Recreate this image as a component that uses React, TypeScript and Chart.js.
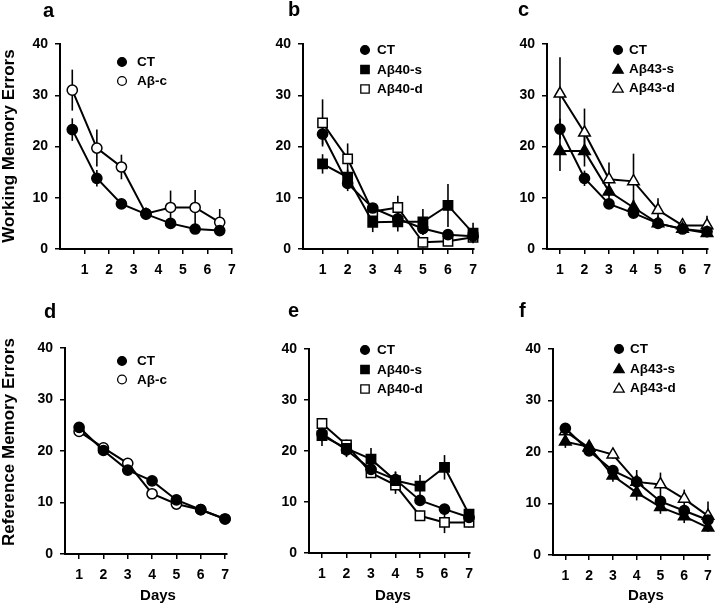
import React, { useEffect, useRef } from 'react';
import { Chart, registerables } from 'chart.js';

Chart.register(...registerables);

const FONT = '"Liberation Sans", Arial, Helvetica, sans-serif';

// ---------- data ----------
const DAYS = [1, 2, 3, 4, 5, 6, 7];
const DAYS_SHIFTED = [0.5, 1.5, 2.5, 3.5, 4.5, 5.5, 6.5];
const DAY_TICKS = [1, 2, 3, 4, 5, 6, 7];
const ERROR_TICKS = [0, 10, 20, 30, 40];

const WORKING_TITLE = 'Working Memory Errors';
const REFERENCE_TITLE = 'Reference Memory Errors';
const X_TITLE = 'Days';

// panel a
const A_CT = [23.3, 13.8, 8.8, 6.8, 5.0, 3.9, 3.6];
const A_CT_ERR = [2.2, 1.6, 0.8, 1.0, 0.7, 0.5, 0.5];
const A_ABC = [31.0, 19.7, 16.0, 6.9, 8.1, 8.1, 5.2];
const A_ABC_ERR = [4.0, 3.6, 2.4, 1.2, 3.3, 3.4, 2.6];

// panel b
const B_CT = [22.4, 12.8, 8.0, 5.9, 4.0, 2.8, 2.5];
const B_CT_ERR = [2.0, 1.5, 0.8, 1.2, 1.2, 0.6, 0.6];
const B_S = [16.6, 14.0, 5.2, 5.3, 5.3, 8.5, 3.1];
const B_S_ERR = [1.9, 1.5, 1.9, 1.9, 2.5, 4.2, 2.0];
const B_D = [24.6, 17.6, 7.3, 8.1, 1.3, 1.5, 2.3];
const B_D_ERR = [4.6, 3.0, 1.0, 2.3, 1.0, 0.8, 1.0];

// panel c
const C_CT = [23.4, 13.8, 8.8, 7.0, 5.0, 3.9, 3.4];
const C_CT_ERR = [2.0, 1.5, 0.8, 0.8, 0.7, 0.5, 0.5];
const C_S = [19.1, 19.1, 11.2, 8.1, 5.0, 3.9, 3.1];
const C_S_ERR = [3.9, 3.0, 1.5, 1.5, 0.8, 0.8, 0.8];
const C_D = [30.3, 22.7, 13.6, 13.2, 7.6, 4.6, 4.6];
const C_D_ERR = [7.1, 4.7, 3.3, 5.4, 2.3, 1.3, 1.9];

// panel d
const D_CT = [24.6, 20.1, 16.3, 14.2, 10.5, 8.6, 6.8];
const D_CT_ERR = [0.5, 0.5, 0.8, 0.5, 0.5, 0.5, 0.5];
const D_ABC = [23.8, 20.6, 17.6, 11.7, 9.7, 8.6, 6.8];
const D_ABC_ERR = [0.6, 0.5, 0.6, 0.6, 0.6, 0.5, 0.5];

// panel e
const E_CT = [23.4, 20.2, 16.4, 14.4, 10.3, 8.6, 7.0];
const E_CT_ERR = [1.5, 1.2, 1.0, 1.5, 1.0, 1.0, 0.7];
const E_S = [23.0, 20.5, 18.4, 14.2, 13.1, 16.8, 7.6];
const E_S_ERR = [2.0, 1.7, 2.2, 1.8, 2.2, 2.4, 1.0];
const E_D = [25.4, 21.2, 15.7, 13.3, 7.3, 6.0, 6.0];
const E_D_ERR = [1.0, 1.0, 1.0, 1.7, 1.0, 2.1, 1.0];

// panel f
const F_CT = [24.6, 20.2, 16.4, 14.2, 10.4, 8.6, 6.8];
const F_CT_ERR = [0.8, 0.8, 0.8, 1.0, 0.8, 0.8, 0.8];
const F_S = [22.0, 21.0, 15.4, 12.1, 9.3, 7.5, 5.3];
const F_S_ERR = [1.2, 1.0, 1.2, 1.5, 1.3, 1.3, 0.8];
const F_D = [24.0, 20.8, 19.5, 14.2, 13.7, 10.9, 7.6];
const F_D_ERR = [0.8, 0.8, 0.8, 2.3, 2.3, 1.8, 2.8];

// ---------- layout ----------
type Series = { label: string; values: number[]; errors: number[]; style: 'circle' | 'rect' | 'triangle'; filled: boolean };
type PanelSpec = {
  letter: string;
  letterPos: { x: number; y: number };
  canvas: { left: number; top: number; width: number; height: number };
  area: { left: number; right: number; top: number; bottom: number };
  xMin: number;
  xMax: number;
  xs: number[];
  series: Series[];
  legend: { x: number; y: number; step: number; textX: number };
  yTitle?: { text: string; x: number; y: number };
  xTitle?: { text: string; x: number; y: number };
};

const PANELS: PanelSpec[] = [
  {
    letter: 'a', letterPos: { x: 43, y: 17 },
    canvas: { left: 0, top: 0, width: 245, height: 300 },
    area: { left: 60, right: 232, top: 44, bottom: 249 },
    xMin: 0, xMax: 7, xs: DAYS_SHIFTED,
    series: [
      { label: 'CT', values: A_CT, errors: A_CT_ERR, style: 'circle', filled: true },
      { label: 'Aβ-c', values: A_ABC, errors: A_ABC_ERR, style: 'circle', filled: false },
    ],
    legend: { x: 122, y: 62, step: 19, textX: 137 },
    yTitle: { text: WORKING_TITLE, x: 9, y: 146 },
  },
  {
    letter: 'b', letterPos: { x: 288, y: 16 },
    canvas: { left: 240, top: 0, width: 245, height: 300 },
    area: { left: 303, right: 478, top: 44, bottom: 249 },
    xMin: 0.22, xMax: 7.04, xs: DAYS,
    series: [
      { label: 'CT', values: B_CT, errors: B_CT_ERR, style: 'circle', filled: true },
      { label: 'Aβ40-s', values: B_S, errors: B_S_ERR, style: 'rect', filled: true },
      { label: 'Aβ40-d', values: B_D, errors: B_D_ERR, style: 'rect', filled: false },
    ],
    legend: { x: 365, y: 50, step: 19.5, textX: 377 },
  },
  {
    letter: 'c', letterPos: { x: 518, y: 16 },
    canvas: { left: 480, top: 0, width: 240, height: 300 },
    area: { left: 547, right: 708, top: 44, bottom: 249 },
    xMin: 0.47, xMax: 7.04, xs: DAYS,
    series: [
      { label: 'CT', values: C_CT, errors: C_CT_ERR, style: 'circle', filled: true },
      { label: 'Aβ43-s', values: C_S, errors: C_S_ERR, style: 'triangle', filled: true },
      { label: 'Aβ43-d', values: C_D, errors: C_D_ERR, style: 'triangle', filled: false },
    ],
    legend: { x: 618, y: 50, step: 19, textX: 629 },
  },
  {
    letter: 'd', letterPos: { x: 44, y: 318 },
    canvas: { left: 0, top: 300, width: 245, height: 308 },
    area: { left: 65, right: 227, top: 348, bottom: 554 },
    xMin: 0.42, xMax: 7.08, xs: DAYS,
    series: [
      { label: 'CT', values: D_CT, errors: D_CT_ERR, style: 'circle', filled: true },
      { label: 'Aβ-c', values: D_ABC, errors: D_ABC_ERR, style: 'circle', filled: false },
    ],
    legend: { x: 122, y: 361, step: 18.5, textX: 137 },
    yTitle: { text: REFERENCE_TITLE, x: 9, y: 442 },
    xTitle: { text: X_TITLE, x: 158, y: 595.5 },
  },
  {
    letter: 'e', letterPos: { x: 288, y: 317 },
    canvas: { left: 240, top: 300, width: 245, height: 308 },
    area: { left: 309, right: 470, top: 349, bottom: 553 },
    xMin: 0.47, xMax: 7.04, xs: DAYS,
    series: [
      { label: 'CT', values: E_CT, errors: E_CT_ERR, style: 'circle', filled: true },
      { label: 'Aβ40-s', values: E_S, errors: E_S_ERR, style: 'rect', filled: true },
      { label: 'Aβ40-d', values: E_D, errors: E_D_ERR, style: 'rect', filled: false },
    ],
    legend: { x: 365, y: 350, step: 19.5, textX: 377 },
    xTitle: { text: X_TITLE, x: 393, y: 595.5 },
  },
  {
    letter: 'f', letterPos: { x: 519, y: 317 },
    canvas: { left: 480, top: 300, width: 240, height: 308 },
    area: { left: 553, right: 717, top: 349, bottom: 555 },
    xMin: 0.48, xMax: 7.08, xs: DAYS,
    series: [
      { label: 'CT', values: F_CT, errors: F_CT_ERR, style: 'circle', filled: true },
      { label: 'Aβ43-s', values: F_S, errors: F_S_ERR, style: 'triangle', filled: true },
      { label: 'Aβ43-d', values: F_D, errors: F_D_ERR, style: 'triangle', filled: false },
    ],
    legend: { x: 619, y: 349, step: 19.5, textX: 630 },
    xTitle: { text: X_TITLE, x: 646, y: 595.5 },
  },
];

function pointRadius(style: string) {
  if (style === 'rect') return 6.6;
  if (style === 'triangle') return 6.7;
  return 5.1;
}

function drawMarker(ctx: CanvasRenderingContext2D, style: string, filled: boolean, x: number, y: number) {
  ctx.save();
  ctx.beginPath();
  if (style === 'circle') {
    ctx.arc(x, y, 4.4, 0, Math.PI * 2);
  } else if (style === 'rect') {
    ctx.rect(x - 4.2, y - 4.2, 8.4, 8.4);
  } else {
    ctx.moveTo(x, y - 4.8);
    ctx.lineTo(x + 5.2, y + 4.2);
    ctx.lineTo(x - 5.2, y + 4.2);
    ctx.closePath();
  }
  ctx.fillStyle = filled ? '#000' : '#fff';
  ctx.fill();
  ctx.lineWidth = 1.3;
  ctx.strokeStyle = '#000';
  ctx.stroke();
  ctx.restore();
}

function Panel({ spec }: { spec: PanelSpec }) {
  const ref = useRef<HTMLCanvasElement | null>(null);

  useEffect(() => {
    const canvas = ref.current;
    if (!canvas) return;
    const { canvas: cv, area } = spec;
    const ox = cv.left;
    const oy = cv.top;

    const decor = {
      id: 'decor',
      beforeDatasetsDraw(chart: any) {
        const ctx: CanvasRenderingContext2D = chart.ctx;
        const yScale = chart.scales.y;
        ctx.save();
        ctx.strokeStyle = '#000';
        ctx.lineWidth = 1.6;
        spec.series.forEach((s, i) => {
          const meta = chart.getDatasetMeta(i);
          s.values.forEach((v, j) => {
            const pt = meta.data[j];
            if (!pt) return;
            const e = s.errors[j];
            const y1 = yScale.getPixelForValue(v + e);
            const y2 = yScale.getPixelForValue(v - e);
            ctx.beginPath();
            ctx.moveTo(pt.x, y1);
            ctx.lineTo(pt.x, y2);
            ctx.stroke();
          });
        });
        ctx.restore();
      },
      afterDraw(chart: any) {
        const ctx: CanvasRenderingContext2D = chart.ctx;
        ctx.save();
        ctx.fillStyle = '#000';
        // panel letter
        ctx.font = `bold 20px ${FONT}`;
        ctx.textAlign = 'left';
        ctx.textBaseline = 'alphabetic';
        ctx.fillText(spec.letter, spec.letterPos.x - ox, spec.letterPos.y - oy);
        // legend
        ctx.font = `bold 13.5px ${FONT}`;
        ctx.textBaseline = 'middle';
        spec.series.forEach((s, k) => {
          const cy = spec.legend.y + k * spec.legend.step - oy;
          drawMarker(ctx, s.style, s.filled, spec.legend.x - ox, cy);
          ctx.fillStyle = '#000';
          ctx.fillText(s.label, spec.legend.textX - ox, cy + 0.5);
        });
        // axis titles
        ctx.textAlign = 'center';
        ctx.textBaseline = 'middle';
        if (spec.xTitle) {
          ctx.font = `bold 15px ${FONT}`;
          ctx.fillText(spec.xTitle.text, spec.xTitle.x - ox, spec.xTitle.y - oy);
        }
        if (spec.yTitle) {
          ctx.font = `bold 17px ${FONT}`;
          ctx.save();
          ctx.translate(spec.yTitle.x - ox, spec.yTitle.y - oy);
          ctx.rotate(-Math.PI / 2);
          ctx.fillText(spec.yTitle.text, 0, 0);
          ctx.restore();
        }
        ctx.restore();
      },
    };

    const tickFont = { family: FONT, weight: 'bold' as const };

    const chart = new Chart(canvas, {
      type: 'line',
      data: {
        datasets: spec.series.map((s) => ({
          label: s.label,
          data: s.values.map((v, i) => ({ x: spec.xs[i], y: v })),
          borderColor: '#000',
          borderWidth: 2,
          pointStyle: s.style,
          pointRadius: pointRadius(s.style),
          pointBackgroundColor: s.filled ? '#000' : '#fff',
          pointBorderColor: '#000',
          pointBorderWidth: 1.5,
          fill: false,
          tension: 0,
          clip: false as any,
        })),
      },
      options: {
        animation: false,
        responsive: false,
        maintainAspectRatio: false,
        events: [],
        layout: {
          padding: {
            left: 0,
            top: area.top - oy,
            right: cv.left + cv.width - area.right,
            bottom: 0,
          },
        },
        plugins: {
          legend: { display: false },
          tooltip: { enabled: false },
          title: { display: false },
        },
        scales: {
          x: {
            type: 'linear',
            min: spec.xMin,
            max: spec.xMax,
            afterFit: (s: any) => {
              s.height = cv.top + cv.height - area.bottom;
            },
            afterBuildTicks: (s: any) => {
              s.ticks = DAY_TICKS.map((v) => ({ value: v }));
            },
            ticks: {
              color: '#000',
              font: { ...tickFont, size: 14 },
              padding: 8,
              autoSkip: false,
              maxRotation: 0,
              minRotation: 0,
            },
            grid: {
              display: true,
              drawOnChartArea: false,
              drawTicks: true,
              tickLength: 5,
              color: '#000',
              lineWidth: 1.5,
            },
            border: { display: true, color: '#000', width: 2 },
          },
          y: {
            type: 'linear',
            min: 0,
            max: 40,
            afterFit: (s: any) => {
              s.width = area.left - ox;
            },
            afterBuildTicks: (s: any) => {
              s.ticks = ERROR_TICKS.map((v) => ({ value: v }));
            },
            ticks: {
              color: '#000',
              font: { ...tickFont, size: 14 },
              padding: 7,
            },
            grid: {
              display: true,
              drawOnChartArea: false,
              drawTicks: true,
              tickLength: 5,
              color: '#000',
              lineWidth: 1.5,
            },
            border: { display: true, color: '#000', width: 2 },
          },
        },
      },
      plugins: [decor],
    });

    return () => chart.destroy();
  }, [spec]);

  return (
    <canvas
      ref={ref}
      width={spec.canvas.width}
      height={spec.canvas.height}
      style={{
        position: 'absolute',
        left: spec.canvas.left,
        top: spec.canvas.top,
        width: spec.canvas.width,
        height: spec.canvas.height,
      }}
    />
  );
}

export default function App() {
  return (
    <div
      style={{
        position: 'absolute',
        left: 0,
        top: 0,
        width: 720,
        height: 608,
        overflow: 'hidden',
        background: '#fff',
      }}
    >
      {PANELS.map((p) => (
        <Panel key={p.letter} spec={p} />
      ))}
    </div>
  );
}
